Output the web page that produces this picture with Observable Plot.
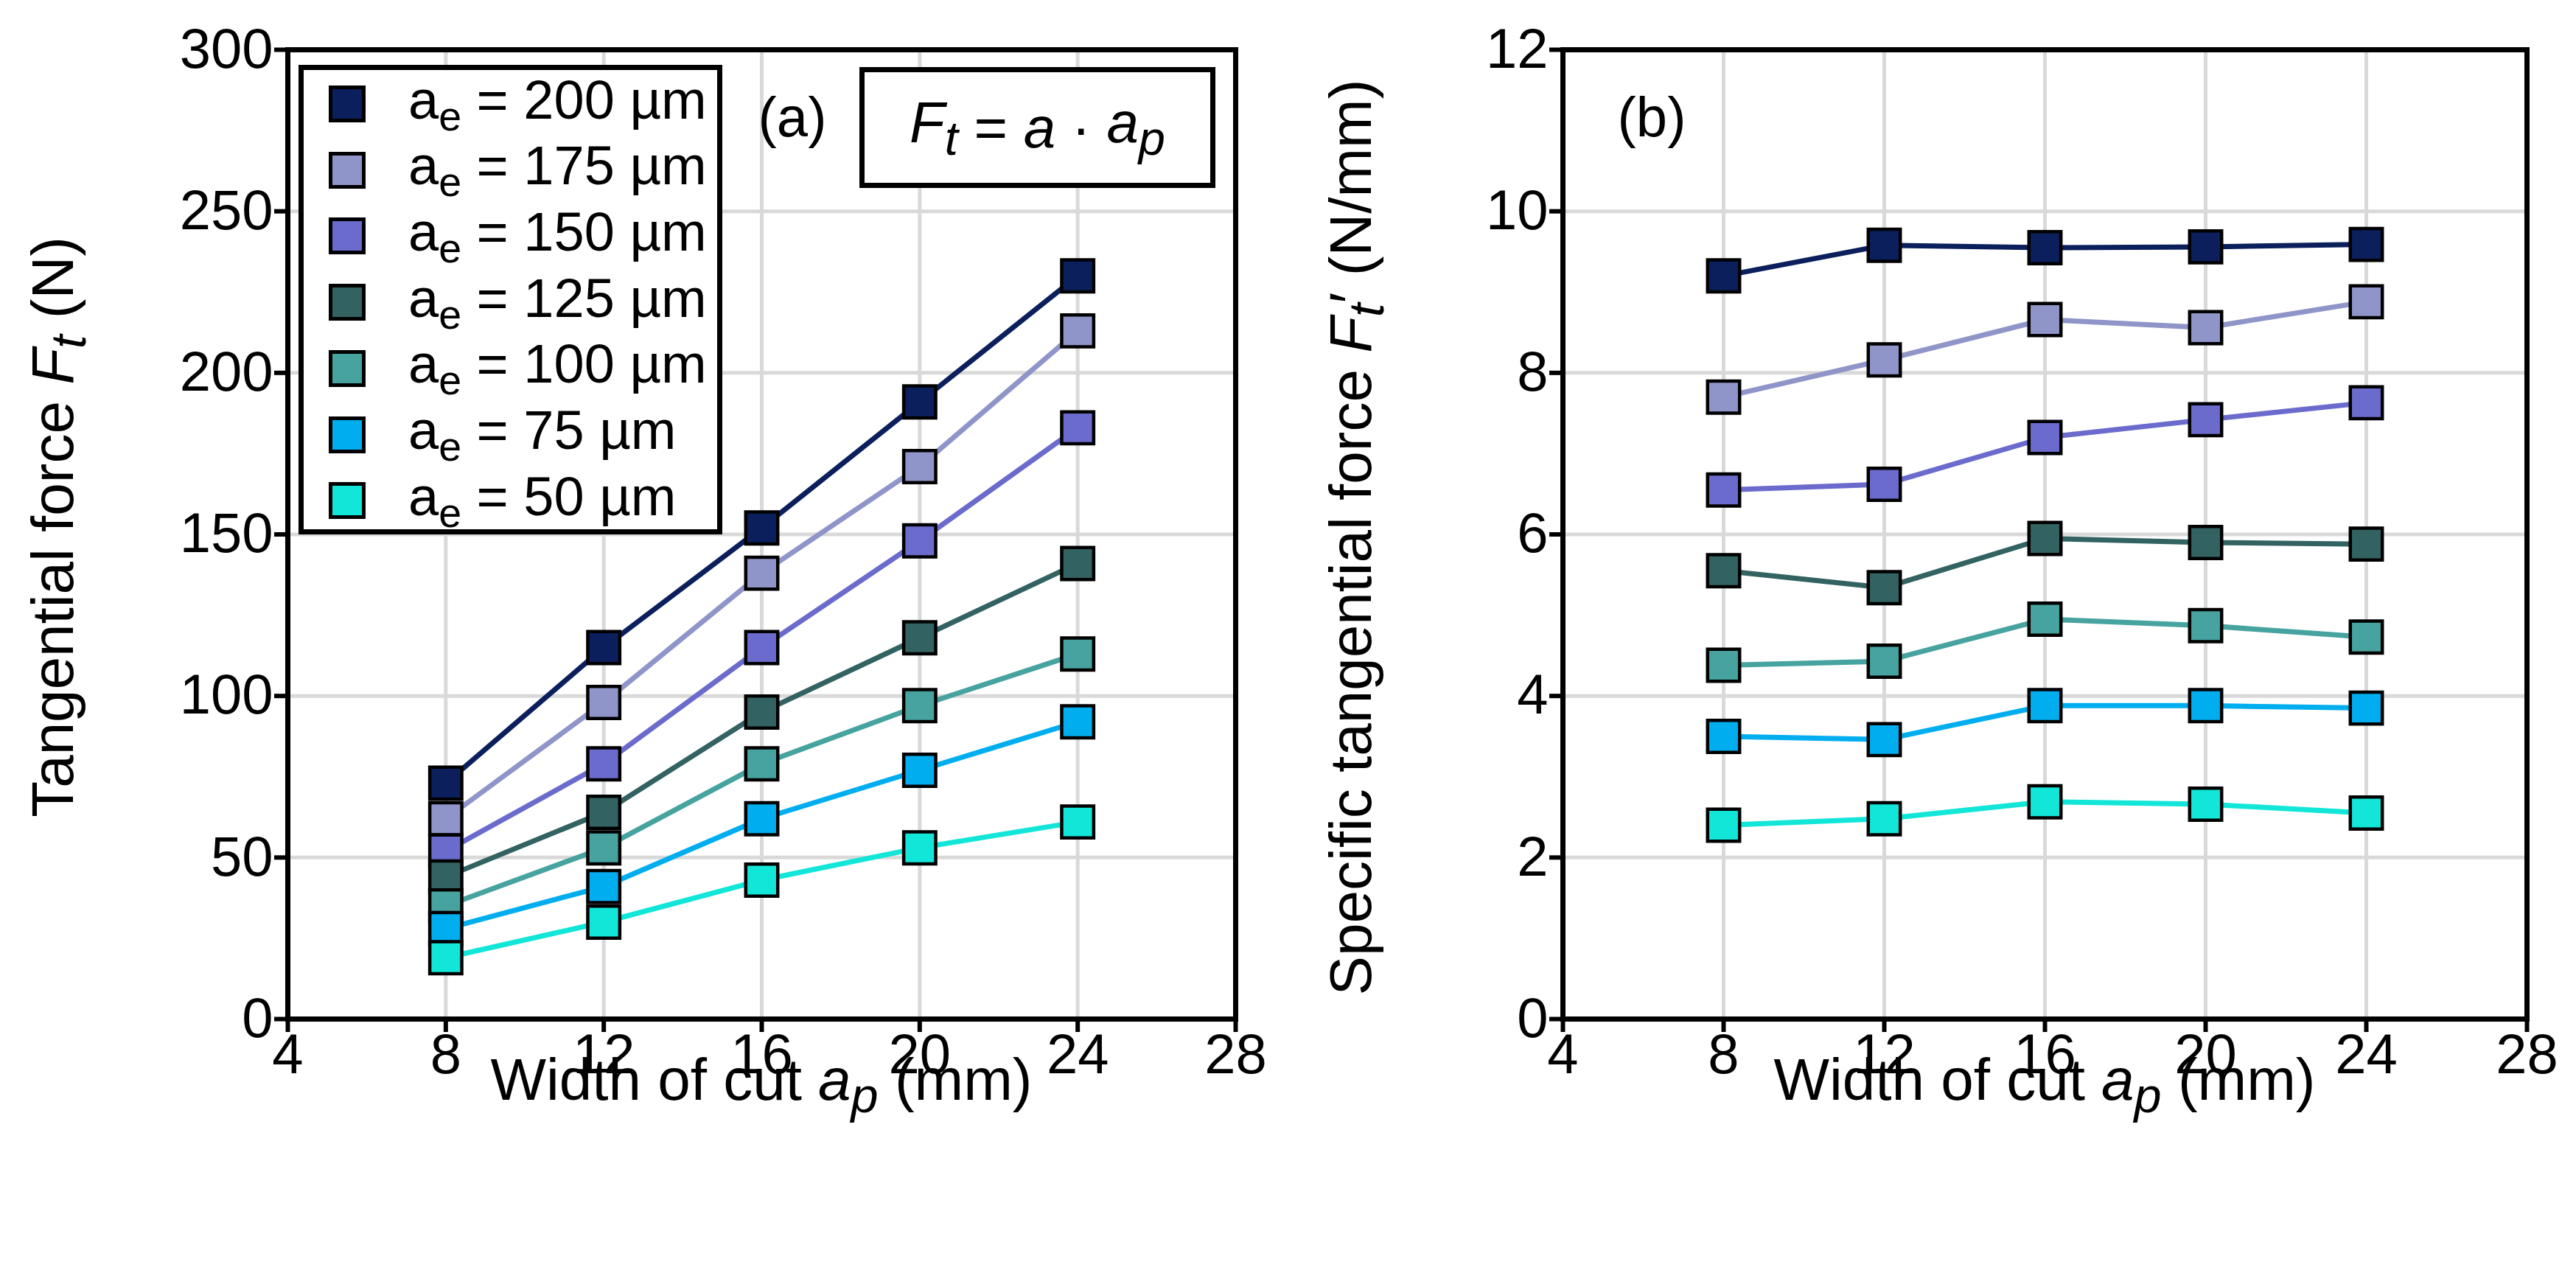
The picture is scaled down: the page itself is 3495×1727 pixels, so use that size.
<!DOCTYPE html>
<html><head><meta charset="utf-8">
<script src="https://cdn.jsdelivr.net/npm/d3@7"></script>
<script src="https://cdn.jsdelivr.net/npm/@observablehq/plot@0.6"></script>
<style>
body{margin:0;background:#fff;font-family:"Liberation Sans",Arial,sans-serif;}
#fig{position:relative;width:3495px;height:1727px;}
.p{position:absolute;top:0;}
.t{position:absolute;font-size:80px;color:#000;white-space:nowrap;transform:translate(-50%,-50%);}
.rot{transform:translate(-50%,-50%) rotate(-90deg);}
#leg{position:absolute;left:405px;top:88px;width:575px;height:637px;border:7px solid #000;background:#fff;box-sizing:border-box;}
.row{position:absolute;left:0;height:90px;display:flex;align-items:center;font-size:74px;}
.sw{width:50px;height:50px;border:5px solid #000;margin-left:34px;margin-right:58px;box-sizing:border-box;}
#fbox{position:absolute;left:1166px;top:91px;width:483px;height:164px;border:7px solid #000;background:#fff;font-size:78px;display:flex;align-items:center;justify-content:center;box-sizing:border-box;}
</style></head><body>
<div id="fig"></div>
<script>
const widths = [8, 12, 16, 20, 24];
const series = ["200", "175", "150", "125", "100", "75", "50"];
const colors = ["#0b1f5c", "#9095c9", "#6b6bcd", "#336262", "#46a39f", "#00aeef", "#12e6d8"];
const forceA = {
  "200": [73, 115, 152, 191, 230],
  "175": [62, 98, 138, 171, 213],
  "150": [52, 79, 115, 148, 183],
  "125": [44, 64, 95, 118, 141],
  "100": [35, 53, 79, 97, 113],
  "75": [28, 41, 62, 77, 92],
  "50": [19, 30, 43, 53, 61]
};
const forceB = {
  "200": [9.2, 9.58, 9.55, 9.56, 9.59],
  "175": [7.7, 8.16, 8.66, 8.56, 8.88],
  "150": [6.55, 6.62, 7.2, 7.42, 7.63],
  "125": [5.55, 5.34, 5.95, 5.9, 5.88],
  "100": [4.38, 4.43, 4.95, 4.87, 4.73],
  "75": [3.5, 3.46, 3.88, 3.88, 3.85],
  "50": [2.4, 2.48, 2.69, 2.66, 2.55]
};
const xTicks = [4, 8, 12, 16, 20, 24, 28];
const yTicksA = [0, 50, 100, 150, 200, 250, 300];
const yTicksB = [0, 2, 4, 6, 8, 10, 12];

function rows(obj){ const r=[]; series.forEach(s=>widths.forEach((w,i)=>r.push({s,w,v:obj[s][i]}))); return r; }

function make(obj, yTicks, ml, mr, w){
  const data = rows(obj);
  return Plot.plot({
    width: w, height: 1727, marginLeft: ml, marginRight: mr, marginTop: 67, marginBottom: 345,
    style: {fontFamily: '"Liberation Sans",Arial,sans-serif', fontSize: "76px", background: "transparent", overflow: "visible"},
    x: {domain: [4, 28], label: null},
    y: {domain: [yTicks[0], yTicks[yTicks.length-1]], label: null},
    color: {domain: series, range: colors},
    marks: [
      Plot.gridX(xTicks, {stroke: "#d9d9d9", strokeOpacity: 1, strokeWidth: 5}),
      Plot.gridY(yTicks, {stroke: "#d9d9d9", strokeOpacity: 1, strokeWidth: 5}),
      Plot.axisX({ticks: xTicks, tickSize: 18, tickPadding: 2, strokeWidth: 6, fontSize: 76, label: null}),
      Plot.axisY({ticks: yTicks, tickSize: 18, tickPadding: 2, strokeWidth: 6, fontSize: 76, label: null}),
      Plot.line(data, {x: "w", y: "v", z: "s", stroke: "s", strokeWidth: 7}),
      Plot.dot(data, {x: "w", y: "v", fill: "s", symbol: "square", r: 24.5, stroke: "#000", strokeWidth: 4.5}),
      Plot.frame({stroke: "#000", strokeWidth: 7})
    ]
  });
}
const fig = document.getElementById("fig");
const a = make(forceA, yTicksA, 390, 72, 1748); a.classList.add("p"); a.style.left="0px"; fig.appendChild(a);
const b = make(forceB, yTicksB, 372, 67, 1747); b.classList.add("p"); b.style.left="1748px"; fig.appendChild(b);

function txt(html, x, y, cls){ const d=document.createElement("div"); d.className="t "+(cls||""); d.innerHTML=html; d.style.left=x+"px"; d.style.top=y+"px"; fig.appendChild(d); return d; }
txt('Tangential force <i>F<sub>t</sub></i> (N)', 78, 715, "rot");
txt('Specific tangential force <i>F<sub>t</sub></i>′ (N/mm)', 1839, 729, "rot");
txt('Width of cut <i>a<sub>p</sub></i> (mm)', 1033, 1471);
txt('Width of cut <i>a<sub>p</sub></i> (mm)', 2774, 1471);
const la = txt('(a)', 1075, 158); la.style.fontSize="76px";
const lb = txt('(b)', 2241, 158); lb.style.fontSize="76px";

const leg = document.createElement("div"); leg.id="leg"; fig.appendChild(leg);
series.forEach((s,i)=>{
  const r=document.createElement("div"); r.className="row"; r.style.top=(141-88-45-7+i*89.7)+"px";
  r.innerHTML=`<div class="sw" style="background:${colors[i]}"></div><span>a<sub style="font-size:0.75em">e</sub> = ${s} µm</span>`;
  leg.appendChild(r);
});
const fb=document.createElement("div"); fb.id="fbox"; fb.innerHTML='<i>F<sub>t</sub></i>&nbsp;=&nbsp;<i>a</i>&nbsp;·&nbsp;<i>a<sub>p</sub></i>'; fig.appendChild(fb);
</script></body></html>
